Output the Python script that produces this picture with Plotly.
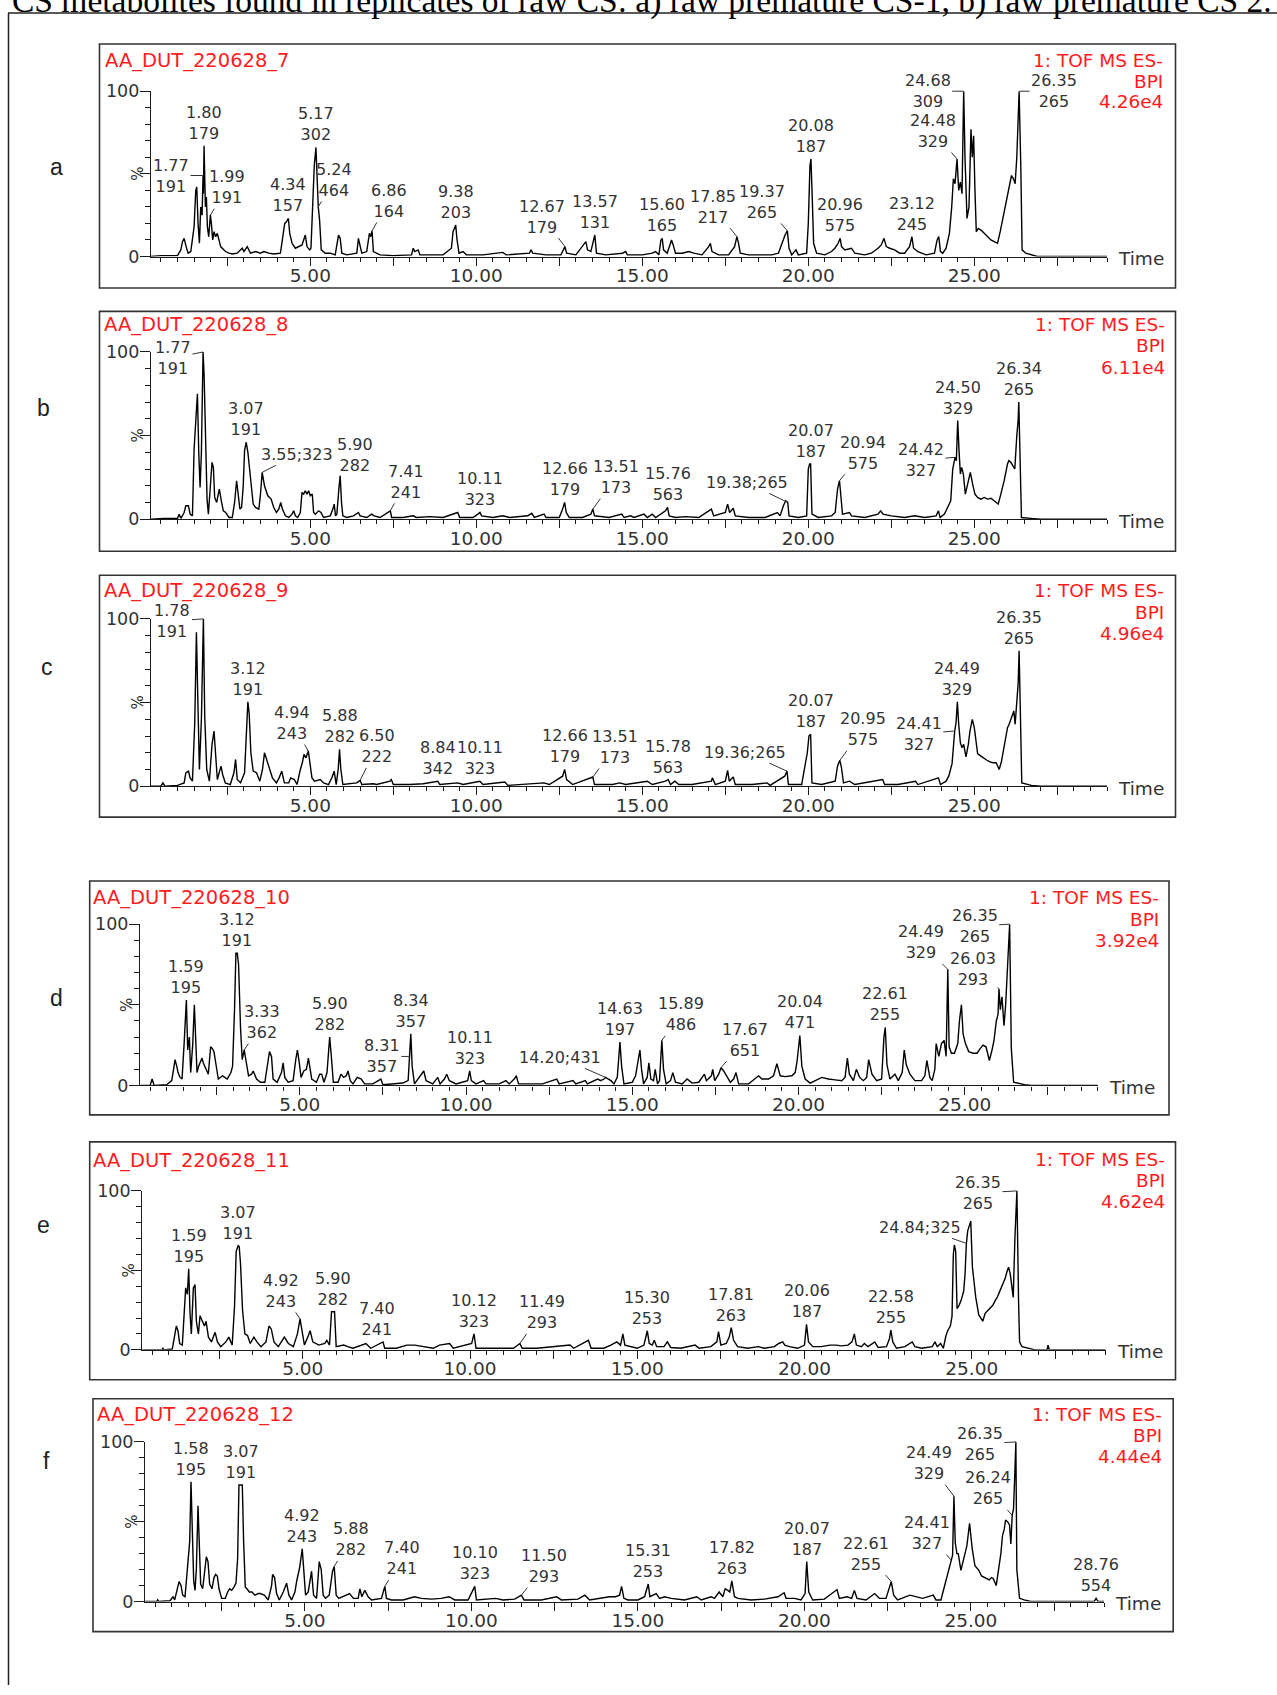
import plotly.graph_objects as go

W, H = 1277, 1695

# ---------------- DATA ----------------
caption = "CS metabolites found in replicates of raw CS: a) raw premature CS-1, b) raw premature CS 2."
panel_letters = ["a", "b", "c", "d", "e", "f"]
sample_names = ["AA_DUT_220628_7", "AA_DUT_220628_8", "AA_DUT_220628_9",
                "AA_DUT_220628_10", "AA_DUT_220628_11", "AA_DUT_220628_12"]
scan_function = ["1: TOF MS ES-", "BPI"]
bpi_max = ["4.26e4", "6.11e4", "4.96e4", "3.92e4", "4.62e4", "4.44e4"]
x_tick_vals = [2.5, 5.0, 7.5, 10.0, 12.5, 15.0, 17.5, 20.0, 22.5, 25.0, 27.5]
x_tick_text = ["", "5.00", "", "10.00", "", "15.00", "", "20.00", "", "25.00", ""]
y_tick_vals = [0, 50, 100]
y_tick_text = ["0", "", "100"]

# chromatogram traces: (retention time [min], relative intensity [%])
trace_a = [(0.20,0),(0.50,0.5),(1.00,0.5),(1.10,4),(1.15,9),(1.20,11),(1.26,6),(1.32,2),(1.40,3),(1.45,12),(1.50,18),(1.55,40),(1.58,42),(1.62,20),(1.66,8),(1.70,30),(1.74,25),(1.77,49),(1.78,38),(1.80,67),(1.84,30),(1.87,36),(1.90,18),(1.94,12),(1.99,25),(2.02,20),(2.06,10),(2.10,15),(2.15,12),(2.20,14),(2.25,10),(2.30,6),(2.40,4),(2.45,3),(2.55,2),(2.65,1.5),(2.80,2),(2.95,5),(3.00,3),(3.10,6),(3.20,2),(3.35,3),(3.50,2),(3.60,3),(3.75,2),(3.90,1.5),(4.10,2),(4.18,15),(4.23,20),(4.28,21),(4.34,23),(4.38,14),(4.45,8),(4.55,5),(4.65,6),(4.75,7),(4.85,13),(4.90,6),(4.98,4),(5.02,5),(5.07,30),(5.12,55),(5.17,66),(5.20,47),(5.24,30),(5.28,22),(5.33,4),(5.45,2),(5.60,2),(5.75,1),(5.85,13),(5.90,11),(5.95,2),(6.10,1),(6.40,2),(6.45,11),(6.50,7),(6.55,2),(6.70,3),(6.78,14),(6.82,12),(6.86,15.5),(6.90,3),(7.10,1),(7.50,0.5),(8.05,1),(8.10,5),(8.15,3),(8.25,4),(8.30,1),(8.60,1),(9.00,1),(9.25,5),(9.30,15),(9.38,19),(9.42,10),(9.48,2),(9.60,3),(9.70,1),(10.20,1),(10.80,2.5),(10.90,1),(11.60,2),(11.65,4),(11.70,2),(12.10,1),(12.55,1),(12.63,5),(12.67,6),(12.72,2),(13.00,1),(13.30,9),(13.35,4),(13.45,3),(13.53,10),(13.57,13),(13.62,2),(13.90,1),(14.40,2),(14.50,3),(14.55,1),(15.00,1),(15.30,2),(15.40,3),(15.50,1),(15.56,10),(15.60,11),(15.64,4),(15.75,2),(15.88,10),(15.93,7),(16.00,2),(16.20,2),(16.40,3),(16.55,2),(16.80,1),(17.00,6),(17.05,8),(17.10,3),(17.30,1),(17.60,1),(17.78,6),(17.85,12),(17.90,8),(17.95,2),(18.20,1),(18.90,1),(19.10,2),(19.30,13),(19.37,15.5),(19.42,5),(19.50,1),(19.63,4),(19.70,1),(19.95,2),(20.00,20),(20.05,55),(20.08,59),(20.12,35),(20.16,8),(20.25,2),(20.50,1),(20.70,3),(20.80,5),(20.90,8),(20.96,11),(21.00,6),(21.10,4),(21.30,5),(21.40,2),(21.70,1),(21.90,2),(22.10,5),(22.20,7),(22.28,11),(22.35,6),(22.45,5),(22.60,4),(22.75,2),(22.90,2),(23.05,6),(23.12,12),(23.17,5),(23.30,3),(23.55,1),(23.80,2),(23.88,10),(23.93,12),(23.98,3),(24.05,2),(24.15,5),(24.25,14),(24.32,30),(24.37,47),(24.42,44),(24.48,59),(24.53,40),(24.58,45),(24.63,38),(24.68,100),(24.72,60),(24.78,23),(24.84,30),(24.90,77),(24.94,60),(24.98,73),(25.02,40),(25.06,15),(25.12,17),(25.20,16),(25.30,14),(25.40,12),(25.50,10),(25.60,9),(25.70,8),(25.78,15),(25.88,25),(25.97,33),(26.05,42),(26.12,49),(26.18,47),(26.23,44),(26.28,60),(26.32,81),(26.35,100),(26.40,55),(26.44,4),(26.55,2),(26.70,1),(26.90,0),(29.00,0)]

trace_b = [(0.20,0),(0.60,0.5),(1.00,0.5),(1.05,3),(1.10,0.5),(1.20,4),(1.25,8),(1.33,8),(1.38,3),(1.45,2),(1.50,42),(1.55,60),(1.60,75),(1.64,40),(1.68,19),(1.72,40),(1.77,100),(1.80,87),(1.84,50),(1.89,12),(1.93,3),(1.98,20),(2.04,34),(2.08,31),(2.12,13),(2.18,10),(2.26,18),(2.32,11),(2.38,5),(2.45,4),(2.55,1),(2.65,1),(2.72,10),(2.78,23),(2.83,14),(2.88,6),(2.93,7),(2.98,20),(3.02,41),(3.07,46),(3.12,40),(3.17,30),(3.22,19),(3.28,9),(3.35,7),(3.45,6),(3.50,15),(3.55,28),(3.62,20),(3.72,14),(3.82,12),(3.90,7),(3.98,4),(4.05,6),(4.11,10),(4.16,6),(4.25,2),(4.35,1),(4.45,3),(4.50,5),(4.55,2),(4.62,1),(4.70,4),(4.75,16),(4.80,15),(4.85,17),(4.90,15),(4.95,17),(5.00,14),(5.06,15),(5.10,4),(5.15,3),(5.25,5),(5.32,4),(5.40,1),(5.60,2),(5.68,6),(5.72,9),(5.76,2),(5.80,3),(5.86,18),(5.90,26),(5.94,10),(5.98,2),(6.10,1),(6.30,2),(6.45,4),(6.50,2),(6.70,1),(6.85,3),(6.92,2),(7.10,1),(7.41,5),(7.45,1),(7.80,1),(8.10,2),(8.20,1),(8.60,1.5),(9.00,1),(9.44,4),(9.50,1),(9.90,1),(10.05,3),(10.11,4),(10.16,2),(10.50,1),(10.80,2),(11.00,1),(11.55,2),(11.67,3.5),(11.75,1),(12.04,3),(12.10,1),(12.50,1),(12.60,6),(12.66,10),(12.71,4),(12.80,1),(13.20,1),(13.45,3),(13.51,6),(13.56,2),(14.00,1),(14.38,3),(14.45,1),(14.65,2),(14.75,1),(15.05,3),(15.15,1),(15.30,3),(15.40,1),(15.70,5),(15.76,7),(15.81,2),(16.00,1),(16.30,1.5),(16.70,1),(17.08,6),(17.15,2),(17.50,4),(17.57,9),(17.63,4),(17.74,6.5),(17.80,2),(18.20,1),(18.70,1),(19.07,4),(19.15,2),(19.25,8),(19.32,11),(19.38,10),(19.42,2),(19.70,1),(19.95,2),(20.00,30),(20.04,33),(20.07,33),(20.11,3),(20.30,1),(20.70,2),(20.81,4),(20.88,18),(20.94,23),(20.98,15),(21.03,3),(21.24,4),(21.30,2),(21.70,1),(22.10,3),(22.18,5),(22.25,3),(22.50,2),(22.90,1),(23.20,2),(23.50,1),(23.85,2),(23.92,5),(23.97,1),(24.10,3),(24.22,8),(24.29,11),(24.35,30),(24.38,33),(24.42,37),(24.46,35),(24.50,59),(24.54,41),(24.58,27),(24.62,31),(24.67,27),(24.73,15),(24.80,22),(24.88,28),(24.95,21),(25.02,15),(25.10,13),(25.20,12),(25.30,13),(25.40,12),(25.50,12.5),(25.60,11),(25.72,9),(25.80,15),(25.90,23),(26.00,33),(26.04,35),(26.10,34),(26.16,32),(26.22,30),(26.28,50),(26.32,59),(26.34,70),(26.38,40),(26.42,1),(26.70,0.5),(27.00,0),(29.00,0)]

trace_c = [(0.20,0),(0.50,0),(0.56,2),(0.62,0),(1.00,0.5),(1.20,2),(1.25,8),(1.33,9),(1.38,5),(1.45,3),(1.52,38),(1.57,92),(1.61,54),(1.66,10),(1.72,40),(1.76,98),(1.78,100),(1.82,42),(1.88,10),(1.96,3),(2.04,25),(2.10,33),(2.15,21),(2.20,4),(2.31,12),(2.36,7),(2.44,2),(2.59,1),(2.70,8),(2.75,16),(2.80,4),(2.90,2),(3.02,8),(3.07,35),(3.12,50.5),(3.16,43),(3.21,20),(3.28,9),(3.38,8),(3.48,3),(3.56,10),(3.62,20),(3.68,16),(3.76,11),(3.86,5),(3.98,2),(4.06,5),(4.14,9),(4.22,2),(4.35,2),(4.41,5),(4.52,4),(4.60,1),(4.70,10),(4.76,14),(4.81,19),(4.87,17),(4.94,21),(4.99,12),(5.05,5),(5.13,3),(5.30,4),(5.40,2),(5.55,1),(5.65,5),(5.72,9),(5.78,1),(5.84,10),(5.88,22),(5.92,10),(5.98,1),(6.20,1.5),(6.40,2),(6.50,3.5),(6.55,1),(6.90,1.5),(7.00,1),(7.40,3),(7.44,4),(7.50,1),(8.00,1),(8.40,1.5),(8.84,3),(8.90,1),(9.44,2),(9.60,1),(10.11,3),(10.20,1),(10.86,2.5),(10.95,0.5),(11.60,1.5),(12.04,2),(12.20,1),(12.60,6),(12.66,10),(12.72,4),(12.90,1),(13.51,5.5),(13.56,1),(14.10,1),(14.32,2),(14.50,1),(15.15,3),(15.30,1),(15.70,3),(15.78,4),(15.85,1),(15.98,3),(16.10,1),(16.50,1),(17.08,3),(17.11,5),(17.20,1),(17.50,3),(17.57,9.5),(17.62,3),(17.74,5.5),(17.80,1),(18.30,1),(18.76,2),(18.85,0.5),(19.23,5),(19.29,6),(19.36,9),(19.40,1),(19.80,1),(19.97,20),(20.02,30),(20.07,31),(20.11,2),(20.40,1),(20.81,3),(20.88,12),(20.95,15.5),(21.00,11),(21.06,2),(21.24,3),(21.40,1),(22.24,4),(22.30,1),(22.70,1),(23.23,3),(23.30,1),(23.92,5),(23.98,1),(24.15,3),(24.23,6),(24.33,13.5),(24.38,30),(24.41,33),(24.45,38),(24.49,50.5),(24.53,37),(24.58,26),(24.63,23),(24.68,25),(24.75,17.5),(24.82,25),(24.87,33),(24.94,40),(25.00,35),(25.05,25),(25.10,19.5),(25.20,18),(25.29,16.5),(25.38,15.5),(25.47,14.5),(25.56,14),(25.66,14),(25.75,10),(25.82,15),(25.88,21),(25.95,28),(26.00,35),(26.05,37),(26.09,39),(26.15,42),(26.19,45),(26.23,37),(26.28,50),(26.32,61),(26.35,81),(26.39,40),(26.43,2),(26.72,0.5),(27.00,0),(29.00,0)]

trace_d = [(0.20,0),(0.50,0),(0.56,4),(0.62,0),(1.00,0.5),(1.15,3),(1.22,12),(1.25,16),(1.30,12),(1.34,8),(1.40,5),(1.46,4),(1.52,25),(1.56,40),(1.59,53),(1.63,22),(1.68,30),(1.72,8),(1.78,25),(1.83,50),(1.87,28),(1.91,8),(1.96,12),(2.01,15),(2.06,17),(2.10,14),(2.19,10),(2.25,7),(2.32,24),(2.37,23),(2.42,21),(2.48,12),(2.55,4),(2.68,6),(2.75,5),(2.82,4),(2.93,8),(2.98,12),(3.04,48),(3.08,82),(3.12,82),(3.16,75),(3.22,35),(3.27,16),(3.33,22),(3.38,16),(3.46,6),(3.55,7),(3.60,9),(3.70,4),(3.82,2),(3.95,2),(4.04,15),(4.09,21),(4.15,18),(4.20,4),(4.32,2),(4.45,8),(4.50,14),(4.55,5),(4.65,2),(4.80,3),(4.88,16),(4.93,22),(4.98,15),(5.04,5),(5.12,9),(5.20,10),(5.26,17),(5.30,12),(5.36,4),(5.50,2),(5.60,7),(5.66,7),(5.73,2),(5.82,8),(5.90,30),(5.95,18),(6.01,2),(6.15,2),(6.24,7),(6.32,5),(6.40,6),(6.45,9),(6.52,3),(6.60,1),(6.73,5),(6.85,4),(6.95,1),(7.20,1),(7.44,4),(7.50,0.5),(7.80,1),(8.10,1.5),(8.26,3),(8.31,18),(8.34,32),(8.38,12),(8.45,1),(8.73,9),(8.80,3),(9.00,1),(9.15,5),(9.22,1),(9.35,4),(9.42,7),(9.50,3),(9.70,1),(10.05,3),(10.11,9),(10.16,3),(10.30,1),(10.53,3),(10.60,1),(11.00,1),(11.20,3),(11.30,1),(11.45,4),(11.51,6),(11.58,1),(12.00,1),(12.30,1),(12.73,4),(12.80,1),(13.22,3),(13.30,1),(13.59,3),(13.65,1),(13.96,4),(14.05,3),(14.15,4),(14.20,5),(14.28,4),(14.36,3),(14.45,1),(14.55,5),(14.63,27),(14.68,12),(14.75,1),(15.00,2),(15.10,6),(15.23,22),(15.28,10),(15.34,1),(15.45,5),(15.50,14),(15.56,4),(15.64,3),(15.69,10),(15.76,1),(15.82,3),(15.89,28),(15.94,10),(16.02,1),(16.15,3),(16.22,8),(16.30,2),(16.50,1),(16.65,4),(16.80,1.5),(17.00,2),(17.17,7),(17.23,3),(17.38,6),(17.42,10),(17.48,3),(17.60,7),(17.67,11),(17.75,9),(17.85,5),(17.95,2),(18.05,4),(18.12,8),(18.20,1),(18.50,1),(18.80,6),(18.90,4),(19.10,4),(19.25,6),(19.35,13.5),(19.45,6),(19.60,5.5),(19.80,6),(19.90,8),(19.96,15.5),(20.04,31),(20.10,12),(20.20,4),(20.35,1.5),(20.70,5),(20.90,4),(21.10,3.5),(21.30,3),(21.40,5),(21.47,17),(21.53,7),(21.65,3),(21.74,10),(21.84,5),(21.95,3),(22.05,5),(22.11,16),(22.21,7),(22.35,3),(22.50,4),(22.57,30),(22.61,36),(22.66,13),(22.75,4),(22.90,7),(23.00,3),(23.12,8),(23.18,22),(23.24,13),(23.35,7),(23.50,3),(23.70,3),(23.80,6),(23.86,15.5),(23.95,5),(24.02,3),(24.10,10),(24.14,26),(24.22,18),(24.30,26),(24.38,28),(24.44,18),(24.49,72),(24.53,24),(24.60,20),(24.69,20),(24.79,26),(24.84,40),(24.90,50),(24.95,32),(25.02,26),(25.12,21),(25.25,20),(25.37,20),(25.47,23),(25.55,25),(25.64,24),(25.74,15.5),(25.82,22),(25.88,28),(25.95,40),(26.00,44),(26.03,60),(26.07,47),(26.12,55),(26.18,37),(26.23,50),(26.29,74),(26.35,100),(26.40,23),(26.47,2),(26.80,0.5),(27.00,0),(29.00,0)]

trace_e = [(0.20,0),(0.79,0),(0.82,1),(0.85,0),(1.10,0.5),(1.16,8),(1.22,15),(1.27,12),(1.32,4),(1.40,3),(1.46,25),(1.50,39),(1.55,35),(1.59,51),(1.63,23),(1.67,10),(1.70,25),(1.73,39),(1.78,41),(1.82,18),(1.88,10),(1.93,21.5),(2.00,18),(2.06,15),(2.11,18),(2.18,8),(2.27,5),(2.32,8),(2.38,11),(2.45,5),(2.55,2),(2.70,5),(2.79,8),(2.89,3),(2.96,27),(3.01,62),(3.04,64),(3.07,65.5),(3.10,65),(3.14,54),(3.20,25),(3.27,10),(3.35,9),(3.43,4),(3.54,8),(3.63,5),(3.75,2),(3.90,5),(3.99,15),(4.06,13),(4.14,5),(4.27,2),(4.45,8),(4.57,4),(4.72,2),(4.84,10),(4.92,19.5),(4.97,14),(5.05,3),(5.15,8),(5.22,12),(5.30,5),(5.48,3),(5.66,4),(5.72,6),(5.80,3),(5.86,24),(5.90,24),(5.95,24),(6.00,2),(6.22,3),(6.35,2),(6.50,1),(6.89,4),(7.03,1),(7.40,5),(7.45,1),(7.80,1),(8.11,3),(8.35,3),(8.60,2),(8.90,1),(9.09,3),(9.39,4),(9.50,1),(10.05,4),(10.12,10),(10.18,1),(10.85,1),(11.30,1),(11.49,4),(11.56,1),(12.00,1),(12.62,2),(12.99,3),(13.10,1),(13.54,6),(13.62,1),(14.00,1),(14.21,3),(14.39,5),(14.50,3),(14.57,10),(14.63,3),(14.80,2),(15.00,1),(15.20,3),(15.30,12),(15.36,4),(15.45,3),(15.51,6),(15.58,2),(15.80,2),(15.90,5),(16.00,1.5),(16.30,1),(16.73,3),(16.85,1),(17.20,2),(17.38,5),(17.43,11.5),(17.50,3),(17.66,4),(17.75,8),(17.81,14),(17.88,6),(18.00,2),(18.30,1),(18.62,2),(18.80,1),(19.10,2),(19.23,4),(19.35,5),(19.41,3),(19.55,2),(19.80,1),(20.00,3),(20.06,16),(20.12,5),(20.25,2),(20.50,2),(20.76,3),(20.95,3),(21.10,2.5),(21.30,3),(21.42,5),(21.49,10),(21.55,3),(21.70,2),(21.79,4),(21.90,2),(22.05,4),(22.10,5),(22.20,1.5),(22.45,2),(22.54,7),(22.58,12.5),(22.64,5),(22.75,1),(23.00,2),(23.15,4),(23.22,5),(23.30,2),(23.50,1),(23.82,2),(23.90,5),(23.97,2),(24.07,4),(24.15,1),(24.23,9),(24.29,12.5),(24.36,15),(24.41,21),(24.45,60),(24.48,66),(24.52,62),(24.56,26),(24.62,28),(24.68,31),(24.76,37),(24.80,48),(24.84,67),(24.88,75),(24.93,79),(24.97,81),(25.02,52),(25.08,40),(25.12,33),(25.21,22),(25.27,20),(25.33,18),(25.40,23),(25.45,24),(25.55,26),(25.63,28),(25.70,31),(25.76,33),(25.82,36),(25.88,39),(25.95,42),(26.00,45),(26.05,49),(26.10,52),(26.15,48),(26.20,40),(26.24,33),(26.29,70),(26.32,91),(26.35,100),(26.40,30),(26.43,5),(26.50,2),(26.70,1),(26.90,0),(27.25,0),(27.28,3),(27.32,0),(29.00,0)]

trace_f = [(0.20,0),(0.55,0),(0.58,1),(0.61,0),(0.95,0.5),(1.04,3),(1.09,1),(1.18,8),(1.22,12.5),(1.28,10),(1.33,4),(1.40,3),(1.45,15),(1.49,24),(1.54,37.5),(1.58,75),(1.62,37.5),(1.66,13),(1.70,7),(1.74,20),(1.79,60),(1.83,35),(1.87,11),(1.93,8),(2.00,20),(2.04,28),(2.09,25),(2.14,11),(2.21,8),(2.27,15),(2.32,17),(2.37,16),(2.42,8),(2.50,2),(2.61,2),(2.68,6),(2.74,8),(2.80,7),(2.87,9),(2.93,11.5),(2.98,27),(3.02,73),(3.07,73),(3.12,73),(3.16,37.5),(3.21,9),(3.26,8),(3.33,6),(3.41,6),(3.50,4),(3.60,5),(3.66,5),(3.78,4),(3.90,1),(4.00,10),(4.03,17),(4.09,15),(4.15,5),(4.23,1),(4.35,6),(4.45,11.5),(4.52,4),(4.60,1),(4.70,6),(4.76,13.5),(4.84,21),(4.92,33),(4.96,21),(5.02,4),(5.10,6),(5.15,11.5),(5.20,19),(5.26,4),(5.35,2),(5.43,25),(5.49,20),(5.55,4),(5.62,2),(5.73,4),(5.83,19),(5.88,22),(5.94,4),(6.02,2),(6.22,4),(6.34,5),(6.46,2),(6.60,2),(6.65,8),(6.71,3),(6.80,7),(6.90,3),(7.00,1),(7.30,2),(7.40,9.5),(7.45,2),(7.60,1),(7.95,1),(8.29,3),(8.50,2),(8.80,1.5),(9.09,2),(9.33,3),(9.50,1),(9.90,1),(10.10,9.5),(10.15,1),(10.73,2),(10.95,1),(11.30,1.5),(11.50,4),(11.58,1),(12.10,1),(12.56,3),(12.70,1),(13.20,1.5),(13.41,4),(13.55,1),(14.15,3),(14.33,3),(14.45,4),(14.51,9.5),(14.58,2),(14.70,1),(15.00,1),(15.20,3),(15.31,11),(15.36,3),(15.55,5),(15.65,2),(15.80,3),(16.00,2),(16.40,1),(16.77,3),(16.90,1),(17.20,3),(17.30,2),(17.44,6),(17.55,3),(17.62,8),(17.70,7),(17.76,6),(17.82,13),(17.90,3),(18.00,2),(18.40,1),(18.80,1.5),(19.21,3),(19.39,5.5),(19.45,2),(19.70,2),(19.90,1),(20.02,5),(20.07,25),(20.13,6),(20.25,1),(20.60,1.5),(20.98,7.5),(21.05,2),(21.28,3),(21.42,2),(21.50,7),(21.58,2),(21.85,1),(22.11,5),(22.25,2),(22.45,2),(22.55,8),(22.61,12.5),(22.68,4),(22.80,1),(23.17,4),(23.35,3),(23.55,2),(23.87,4),(23.95,1),(24.10,1),(24.21,10),(24.30,16.5),(24.36,22),(24.41,26),(24.45,29),(24.49,66),(24.53,37),(24.58,30),(24.62,30),(24.70,19.5),(24.78,27),(24.88,35),(24.96,49),(25.00,40),(25.04,33),(25.12,22.5),(25.24,19.5),(25.32,16),(25.40,15),(25.47,14),(25.55,13.5),(25.62,15),(25.67,14.5),(25.76,10),(25.85,22.5),(25.90,30),(25.95,41.5),(26.00,45),(26.04,51),(26.10,50),(26.16,48),(26.20,36),(26.24,54),(26.28,58),(26.32,81),(26.35,100),(26.38,20),(26.46,2),(26.60,1),(26.80,0),(28.70,0),(28.76,2),(28.82,0),(29.00,0)]

# peak labels: (retention time, base peak m/z)
labels_a = [("1.77","191"),("1.80","179"),("1.99","191"),("4.34","157"),("5.17","302"),("5.24","464"),("6.86","164"),("9.38","203"),("12.67","179"),("13.57","131"),("15.60","165"),("17.85","217"),("19.37","265"),("20.08","187"),("20.96","575"),("23.12","245"),("24.48","329"),("24.68","309"),("26.35","265")]
labels_b = [("1.77","191"),("3.07","191"),("3.55","323"),("5.90","282"),("7.41","241"),("10.11","323"),("12.66","179"),("13.51","173"),("15.76","563"),("19.38","265"),("20.07","187"),("20.94","575"),("24.42","327"),("24.50","329"),("26.34","265")]
labels_c = [("1.78","191"),("3.12","191"),("4.94","243"),("5.88","282"),("6.50","222"),("8.84","342"),("10.11","323"),("12.66","179"),("13.51","173"),("15.78","563"),("19.36","265"),("20.07","187"),("20.95","575"),("24.41","327"),("24.49","329"),("26.35","265")]
labels_d = [("1.59","195"),("3.12","191"),("3.33","362"),("5.90","282"),("8.31","357"),("8.34","357"),("10.11","323"),("14.20","431"),("14.63","197"),("15.89","486"),("17.67","651"),("20.04","471"),("22.61","255"),("24.49","329"),("26.03","293"),("26.35","265")]
labels_e = [("1.59","195"),("3.07","191"),("4.92","243"),("5.90","282"),("7.40","241"),("10.12","323"),("11.49","293"),("15.30","253"),("17.81","263"),("20.06","187"),("22.58","255"),("24.84","325"),("26.35","265")]
labels_f = [("1.58","195"),("3.07","191"),("4.92","243"),("5.88","282"),("7.40","241"),("10.10","323"),("11.50","293"),("15.31","253"),("17.82","263"),("20.07","187"),("22.61","255"),("24.41","327"),("24.49","329"),("26.24","265"),("26.35","265"),("28.76","554")]

# ---------------- STYLE / LAYOUT ----------------
A = ("<br>", "above", 0, 0)
def L(dx, dy, sep="<br>"):
    return (sep, "lead", dx, dy)

style_a = [L(-32,0), A, L(17,-28), A, A, L(16,-27), L(17,-30), A, L(-23,-30), A, A, L(-24,-30), L(-25,-29), A, A, A, L(-24,-28), L(-36,0), L(35,0)]
style_b = [L(-30,6), A, L(35,-18,";"), L(15,-21), L(16,-29), A, A, L(23,-32), A, L(-41,-20,";"), A, L(23,-28), L(-34,3), A, A]
style_c = [L(-31,2), A, L(-16,-28), A, L(17,-34), A, A, A, L(22,-30), A, L(-42,-19,";"), A, L(23,-31), L(-36,3), A, A]
style_d = [A, A, L(18,-28), A, L(-28,0), A, A, L(-46,-20,";"), A, L(19,-26), L(24,-28), A, A, L(-27,-27), L(-26,-20), L(-35,2)]
style_e = [A, A, L(-19,-28), A, ("<br>","above",-6,0), A, L(22,-31), A, A, A, A, L(-46,-16,";"), L(-39,2)]
style_f = [A, A, A, L(17,-27), L(17,-28), A, L(23,-29), A, A, A, L(-25,-28), L(-24,-27), L(-25,-33), L(-24,-27), L(-36,2), A]

traces = [trace_a, trace_b, trace_c, trace_d, trace_e, trace_f]
labels = [labels_a, labels_b, labels_c, labels_d, labels_e, labels_f]
styles = [style_a, style_b, style_c, style_d, style_e, style_f]

# pixel geometry per panel (target pixel positions in the final picture)
GEOM = [
    dict(box=(99.5, 42, 1175.5, 286.5), y0=255.0, y100=89.3, t0=144.3, ppm=33.2, title=(102.5, 59), red=(58.5, 79.5, 100), right=1164, letter=(56, 165)),
    dict(box=(99.5, 310, 1175.5, 550.5), y0=518.3, y100=350.7, t0=144.3, ppm=33.2, title=(102, 323.5), red=(323, 344.5, 366), right=1166, letter=(43, 407)),
    dict(box=(99.5, 574.5, 1175.5, 817), y0=786.0, y100=618.3, t0=144.3, ppm=33.2, title=(102, 590), red=(590, 611.5, 633), right=1165, letter=(46.5, 666)),
    dict(box=(89.7, 881, 1169, 1115.5), y0=1086.0, y100=924.3, t0=133.5, ppm=33.25, title=(91, 898), red=(898, 919.5, 941), right=1160, letter=(56, 998)),
    dict(box=(89.7, 1142.5, 1175.5, 1381), y0=1351.0, y100=1191.7, t0=135.5, ppm=33.45, title=(91, 1161), red=(1160.5, 1181.5, 1202.5), right=1166, letter=(43, 1226)),
    dict(box=(93, 1400, 1173.2, 1633.5), y0=1603.3, y100=1443.3, t0=138.4, ppm=33.3, title=(95, 1416), red=(1416, 1437, 1458), right=1163, letter=(46.5, 1462)),
]

FONT = "DejaVu Sans"
RED = "#ff1c1c"
LABEL_COLOR = "#333333"
AXIS_COLOR = "#1a1a1a"
X_LO, X_HI = 0.2, 29.0

# vertical correction for the page offset/scale seen in the rendered picture
V_OFF, V_SCALE = 7.9, 0.9906

def px(x):
    return x / W

def py(y):
    return 1 - ((y - V_OFF) / V_SCALE) / H

fig = go.Figure()
annotations = []
shapes = []

# caption (clipped at top, as in the source) and frame lines
annotations.append(dict(text=caption, xref="paper", yref="paper", x=px(10), y=py(19.5),
                        xanchor="left", yanchor="bottom", showarrow=False,
                        font=dict(family="Liberation Serif", size=33.5, color="black")))
shapes.append(dict(type="line", xref="paper", yref="paper", x0=px(8), x1=1.0, y0=py(11), y1=py(11),
                   line=dict(color="#222", width=1.5)))
shapes.append(dict(type="line", xref="paper", yref="paper", x0=px(8.5), x1=px(8.5), y0=py(11), y1=0,
                   line=dict(color="#222", width=1.5)))

for k in range(6):
    g = GEOM[k]
    n = "" if k == 0 else str(k + 1)
    xa, ya = "x" + n, "y" + n
    tr = traces[k]
    fig.add_trace(go.Scatter(x=[p[0] for p in tr], y=[p[1] for p in tr], mode="lines",
                             line=dict(color="black", width=1.4), xaxis=xa, yaxis=ya,
                             showlegend=False, hoverinfo="skip"))
    dom_x = [px(g["t0"] + X_LO * g["ppm"]), px(g["t0"] + X_HI * g["ppm"])]
    dom_y = [py(g["y0"]), py(g["y100"])]
    fig.update_layout(**{
        "xaxis" + n: dict(domain=dom_x, range=[X_LO, X_HI], anchor=ya, showgrid=False, zeroline=False,
                          showline=True, linecolor=AXIS_COLOR, linewidth=1.3,
                          ticks="outside", ticklen=8, tickwidth=1.2, tickcolor=AXIS_COLOR,
                          tickmode="array", tickvals=x_tick_vals, ticktext=x_tick_text,
                          ticklabelstandoff=-6,
                          tickfont=dict(family=FONT, size=18.5, color="#333"),
                          minor=dict(tickmode="linear", tick0=0, dtick=0.5, ticks="outside",
                                     ticklen=4, tickwidth=1, tickcolor=AXIS_COLOR),
                          fixedrange=True),
        "yaxis" + n: dict(domain=dom_y, range=[0, 100], anchor=xa, showgrid=False, zeroline=False,
                          showline=True, linecolor=AXIS_COLOR, linewidth=1.3,
                          ticks="outside", ticklen=10, tickwidth=1.2, tickcolor=AXIS_COLOR,
                          tickmode="array", tickvals=y_tick_vals, ticktext=y_tick_text,
                          ticklabelstandoff=-3,
                          tickfont=dict(family=FONT, size=17.5, color="#333"),
                          minor=dict(tickmode="linear", tick0=0, dtick=10, ticks="outside",
                                     ticklen=5, tickwidth=1, tickcolor=AXIS_COLOR),
                          fixedrange=True),
    })
    # panel frame
    bx0, by0, bx1, by1 = g["box"]
    shapes.append(dict(type="rect", xref="paper", yref="paper", x0=px(bx0), x1=px(bx1),
                       y0=py(by1), y1=py(by0), line=dict(color="#333", width=1.6)))
    # sample name
    annotations.append(dict(text=sample_names[k], xref="paper", yref="paper", x=px(g["title"][0]),
                            y=py(g["title"][1]), xanchor="left", yanchor="middle", showarrow=False,
                            font=dict(family=FONT, size=19.5, color=RED)))
    # scan function / BPI
    for txt, yy in zip(scan_function + [bpi_max[k]], g["red"]):
        annotations.append(dict(text=txt, xref="paper", yref="paper", x=px(g["right"]), y=py(yy),
                                xanchor="right", yanchor="middle", showarrow=False, borderpad=0,
                                font=dict(family=FONT, size=18.5, color=RED)))
    # panel letter
    annotations.append(dict(text=panel_letters[k], xref="paper", yref="paper", x=px(g["letter"][0]),
                            y=py(g["letter"][1]), xanchor="center", yanchor="middle", showarrow=False,
                            font=dict(family="Liberation Sans", size=23, color="#222")))
    # "%" and "Time"
    annotations.append(dict(text="%", xref=xa + " domain", yref=ya, x=0, y=50, xshift=-13,
                            xanchor="center", yanchor="middle", showarrow=False, textangle=-90,
                            font=dict(family=FONT, size=15, color="#333")))
    annotations.append(dict(text="Time", xref=xa, yref=ya, x=X_HI, y=0, xshift=9, yshift=-2,
                            xanchor="left", yanchor="middle", showarrow=False,
                            font=dict(family=FONT, size=18.5, color="#333")))
    # peak labels
    for (rt, mz), (sep, mode, dx, dy) in zip(labels[k], styles[k]):
        t = float(rt)
        tip = min(tr, key=lambda p: abs(p[0] - t))[1]
        text = rt + sep + mz
        if mode == "above":
            annotations.append(dict(text=text, xref=xa, yref=ya, x=t, y=tip, xshift=dx, yshift=dy + 1,
                                    xanchor="center", yanchor="bottom", showarrow=False,
                                    font=dict(family=FONT, size=16, color=LABEL_COLOR)))
        else:
            annotations.append(dict(text=text, xref=xa, yref=ya, x=t, y=tip, ax=dx, ay=dy,
                                    showarrow=True, arrowhead=0, arrowwidth=1, arrowcolor=LABEL_COLOR,
                                    standoff=0, startstandoff=0,
                                    font=dict(family=FONT, size=16, color=LABEL_COLOR)))

fig.update_layout(width=W, height=H, margin=dict(l=0, r=0, t=0, b=0),
                  paper_bgcolor="white", plot_bgcolor="white",
                  annotations=annotations, shapes=shapes, showlegend=False)

fig.write_html("out.html")
